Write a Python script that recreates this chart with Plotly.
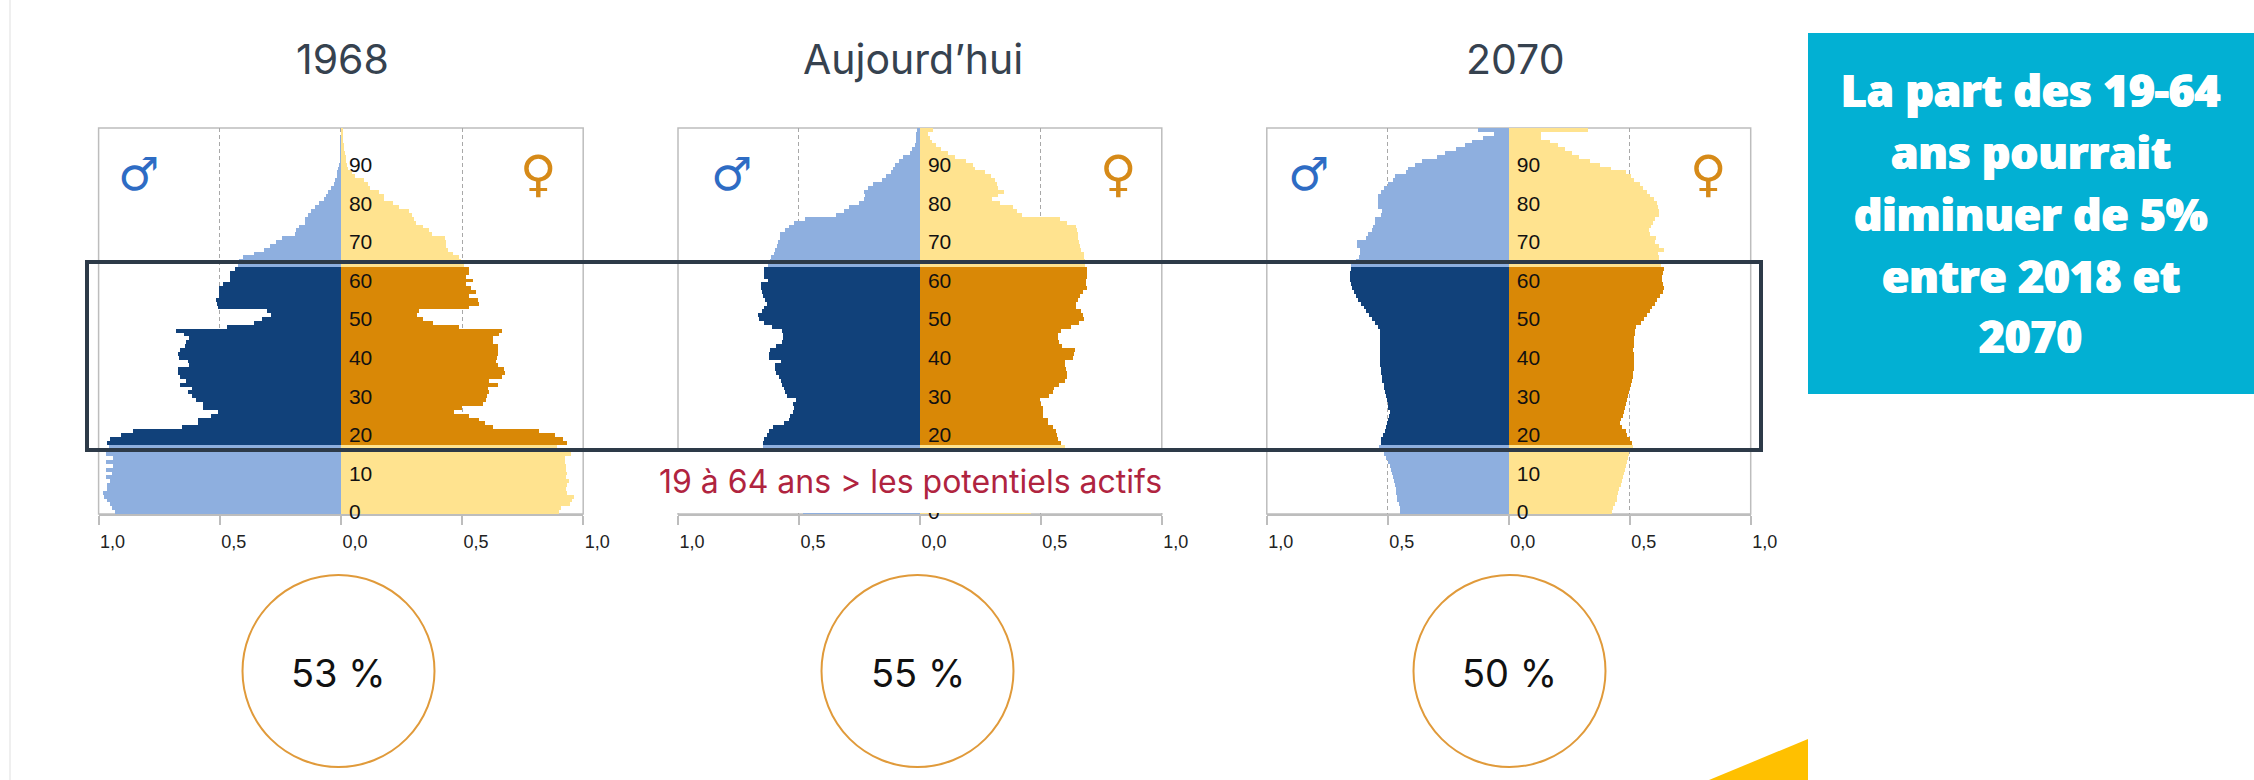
import plotly.graph_objects as go

W, H = 2254, 780
AGES = list(range(100))
AGE_TICKS = [0, 10, 20, 30, 40, 50, 60, 70, 80, 90]
AGE_TICKS_MASKED = [0, 20, 30, 40, 50, 60, 70, 80, 90]
X_TICKS = [-1, -0.5, 0, 0.5, 1]
X_LABELS = ["1,0", "0,5", "0,0", "0,5", "1,0"]
PANEL_TITLES = ["1968", "Aujourd’hui", "2070"]
SHARES = ["53 %", "55 %", "50 %"]
WORKING_AGES = (18, 63)
HEADLINE = ["La part des 19-64", "ans pourrait", "diminuer de 5%", "entre 2018 et", "2070"]

men_1968 = [.935,.945,.956,.968,.979,.982,.968,.968,.953,.971,.945,.971,.944,.971,.942,.971,.968,.960,.965,.953,
 .909,.861,.658,.591,.591,.537,.510,.569,.572,.599,.617,.631,.617,.664,.640,.664,.673,.673,.628,.631,
 .670,.676,.665,.646,.643,.628,.650,.684,.473,.360,.329,.292,.307,.510,.513,.516,.503,.503,.506,.488,
 .459,.459,.459,.437,.425,.422,.404,.360,.319,.296,.270,.245,.193,.186,.174,.150,.149,.139,.127,.109,
 .090,.071,.065,.053,.044,.031,.024,.016,.016,.012,.009,.007,.006,.004,.003,.003,.002,.002,.001,.001]
women_1968 = [.898,.906,.942,.953,.962,.932,.929,.932,.941,.926,.931,.928,.929,.925,.923,.947,.935,.891,.931,.913,
 .883,.817,.628,.593,.569,.529,.466,.500,.586,.596,.603,.608,.606,.645,.611,.662,.674,.670,.647,.640,
 .643,.646,.647,.647,.628,.628,.652,.665,.485,.378,.338,.311,.320,.529,.569,.566,.525,.555,.534,.515,
 .544,.515,.525,.528,.507,.496,.485,.463,.441,.434,.431,.428,.375,.363,.338,.308,.298,.292,.279,.239,
 .212,.176,.176,.156,.117,.109,.094,.058,.043,.028,.025,.021,.018,.015,.012,.010,.009,.006,.004,.003]
men_today = [.483,.49,.49,.50,.50,.50,.51,.51,.52,.52,.53,.54,.55,.57,.59,.61,.63,.649,.649,.643,
 .634,.624,.609,.560,.542,.535,.524,.520,.524,.513,.550,.557,.561,.572,.576,.584,.594,.601,.601,.575,
 .624,.624,.619,.594,.569,.564,.564,.572,.613,.646,.665,.668,.653,.646,.631,.639,.649,.653,.656,.656,
 .628,.643,.646,.646,.628,.619,.616,.604,.599,.590,.587,.579,.578,.557,.542,.520,.476,.347,.313,.293,
 .253,.231,.228,.231,.216,.194,.157,.142,.120,.113,.105,.086,.068,.039,.031,.021,.016,.015,.015,.013]
women_today = [.458,.46,.46,.47,.47,.47,.48,.48,.49,.49,.50,.51,.52,.54,.55,.57,.58,.599,.584,.572,
 .566,.561,.551,.529,.529,.510,.507,.507,.502,.495,.532,.551,.554,.576,.599,.609,.609,.606,.601,.599,
 .633,.637,.640,.588,.576,.569,.569,.584,.624,.658,.677,.673,.668,.646,.646,.655,.661,.673,.690,.687,
 .687,.690,.690,.690,.681,.683,.680,.677,.668,.662,.658,.655,.655,.650,.646,.609,.581,.421,.403,.384,
 .332,.299,.324,.347,.324,.317,.310,.295,.270,.228,.221,.191,.147,.117,.087,.065,.050,.043,.033,.053]
men_2070 = [.449,.452,.456,.461,.464,.465,.468,.471,.474,.479,.483,.486,.492,.498,.507,.516,.521,.538,.527,.527,
 .520,.513,.508,.504,.498,.496,.492,.498,.501,.504,.507,.511,.516,.518,.523,.526,.529,.530,.533,.535,
 .535,.535,.533,.532,.532,.532,.532,.535,.542,.552,.567,.578,.589,.601,.612,.622,.631,.641,.648,.653,
 .657,.659,.659,.654,.651,.634,.619,.616,.616,.626,.626,.592,.582,.567,.560,.552,.552,.530,.523,.542,
 .542,.542,.542,.527,.518,.501,.479,.471,.427,.419,.390,.360,.298,.264,.220,.183,.154,.109,.061,.129]
women_2070 = [.425,.430,.437,.445,.448,.452,.456,.462,.467,.471,.474,.479,.483,.486,.492,.496,.504,.511,.507,.501,
 .489,.482,.467,.459,.464,.470,.474,.479,.483,.486,.492,.496,.501,.504,.507,.511,.514,.516,.518,.518,
 .516,.516,.514,.516,.518,.518,.521,.523,.526,.545,.558,.570,.582,.592,.604,.613,.625,.637,.641,.637,
 .634,.634,.637,.640,.629,.622,.619,.614,.641,.622,.604,.607,.585,.578,.589,.595,.604,.619,.619,.614,
 .610,.600,.585,.570,.555,.541,.518,.504,.482,.422,.378,.334,.290,.260,.230,.201,.171,.131,.131,.326]

MEN = [men_1968, men_today, men_2070]
WOMEN = [women_1968, women_today, women_2070]

# layout in pixels
PANELS = [(98.6, 583.2), (678, 1161.8), (1266.8, 1750.7)]
PLOT_TOP, PLOT_BOTTOM = 128, 514
CIRCLE_X = [338.5, 917.5, 1509.5]
TITLE_X = [342, 913, 1515]
MALE_X = [138, 731, 1308]
FEMALE_X = [538, 1118, 1708]
C_M_L, C_M_D, C_F_L, C_F_D = "#8EAFDF", "#11417A", "#FFE38F", "#D98806"
GREY = "#BDBDBD"


def fx(p):
    return p / W


def fy(p):
    return 1 - p / H


def in_work(a):
    return WORKING_AGES[0] <= a <= WORKING_AGES[1]


fig = go.Figure()
shapes, annos = [], []


def note(text, x, y, size, color, family="Inter", weight=None, shadow=None):
    font = dict(size=size, color=color, family=family, weight=weight)
    if shadow:
        font["shadow"] = shadow
    annos.append(dict(text=text, x=fx(x), y=fy(y), xref="paper", yref="paper", showarrow=False,
                      xanchor="center", yanchor="middle", font=font))


layout = dict(width=W, height=H, margin=dict(l=0, r=0, t=0, b=0, autoexpand=False), paper_bgcolor="white",
              plot_bgcolor="rgba(0,0,0,0)", showlegend=False, barmode="overlay", bargap=0)

for i, (x0, x1) in enumerate(PANELS):
    sfx = "" if i == 0 else str(i + 1)
    xname, yname = "x" + sfx, "y" + sfx
    fig.add_trace(go.Bar(y=AGES, x=[-v for v in MEN[i]], orientation="h", width=1, xaxis=xname, yaxis=yname,
                         marker=dict(color=[C_M_D if in_work(a) else C_M_L for a in AGES], line_width=0)))
    fig.add_trace(go.Bar(y=AGES, x=WOMEN[i], orientation="h", width=1, xaxis=xname, yaxis=yname,
                         marker=dict(color=[C_F_D if in_work(a) else C_F_L for a in AGES], line_width=0)))
    layout["xaxis" + sfx] = dict(domain=[fx(x0), fx(x1)], range=[-1, 1], anchor=yname, tickmode="array",
                                 tickvals=X_TICKS, ticktext=X_LABELS, ticks="outside", ticklen=9, tickcolor=GREY,
                                 tickwidth=1.5, showline=True, linecolor=GREY, linewidth=1.5, zeroline=False,
                                 showgrid=True, gridcolor="#A8A8A8", griddash="4px,3px", gridwidth=1,
                                 tickfont=dict(family="Liberation Sans", size=18, color="#222"), ticklabelshift=14,
                                 ticklabelstandoff=2, fixedrange=True)
    layout["yaxis" + sfx] = dict(domain=[fy(PLOT_BOTTOM), fy(PLOT_TOP)], range=[-0.5, 99.5], anchor="free",
                                 position=fx((x0 + x1) / 2), side="right", tickmode="array",
                                 tickvals=AGE_TICKS_MASKED if i == 1 else AGE_TICKS,
                                 ticks="", showline=False, showgrid=False, zeroline=False, ticklabelstandoff=7,
                                 tickfont=dict(family="Liberation Sans", size=21, color="#111"), fixedrange=True)
    shapes.append(dict(type="rect", xref=xname + " domain", yref=yname + " domain", x0=0, x1=1, y0=0, y1=1,
                       line=dict(color=GREY, width=1.5), layer="below"))
    note(PANEL_TITLES[i], TITLE_X[i], 59, 41, "#36424F")
    note("♂", MALE_X[i], 174, 46, "#2E6CC4", family="DejaVu Sans")
    note("♀", FEMALE_X[i], 174, 50, "#D68A18", family="DejaVu Sans")
    r = 96
    shapes.append(dict(type="circle", xref="paper", yref="paper", x0=fx(CIRCLE_X[i] - r), x1=fx(CIRCLE_X[i] + r),
                       y0=fy(671 + r), y1=fy(671 - r), line=dict(color="#E09A3A", width=2)))
    note(SHARES[i], CIRCLE_X[i], 673, 38, "#111")

# mask over the middle pyramid's youngest ages, carrying the caption
shapes.append(dict(type="rect", xref="paper", yref="paper", x0=fx(640), x1=fx(1200), y0=fy(513), y1=fy(452),
                   fillcolor="white", line_width=0, layer="above"))
note("19 à 64 ans &gt; les potentiels actifs", 910, 481, 32, "#B0243F")

# working-age frame
shapes.append(dict(type="rect", xref="paper", yref="paper", x0=fx(87), x1=fx(1761), y0=fy(450), y1=fy(262),
                   line=dict(color="#2D3A48", width=4), layer="above"))
# page furniture
shapes.append(dict(type="line", xref="paper", yref="paper", x0=fx(10), x1=fx(10), y0=0, y1=1,
                   line=dict(color="#EFEFEF", width=2), layer="below"))
shapes.append(dict(type="rect", xref="paper", yref="paper", x0=fx(1808), x1=1, y0=fy(394), y1=fy(33),
                   fillcolor="#02B0D3", line_width=0, layer="below"))
shapes.append(dict(type="path", xref="paper", yref="paper",
                   path=f"M {fx(1709)} 0 L {fx(1808)} {fy(739)} L {fx(1808)} 0 Z",
                   fillcolor="#FFC000", line_width=0, layer="below"))
for line, y in zip(HEADLINE, [90, 152, 214, 276, 336]):
    note(line, 2031, y, 44, "white", family="Open Sans", weight=800,
         shadow="0.7px 0 0 white, -0.7px 0 0 white")

layout["shapes"] = shapes
layout["annotations"] = annos
fig.update_layout(**layout)
fig.write_html("out.html", post_script="document.body.style.margin='0';document.body.style.overflow='hidden';",
               config={"displayModeBar": False})
